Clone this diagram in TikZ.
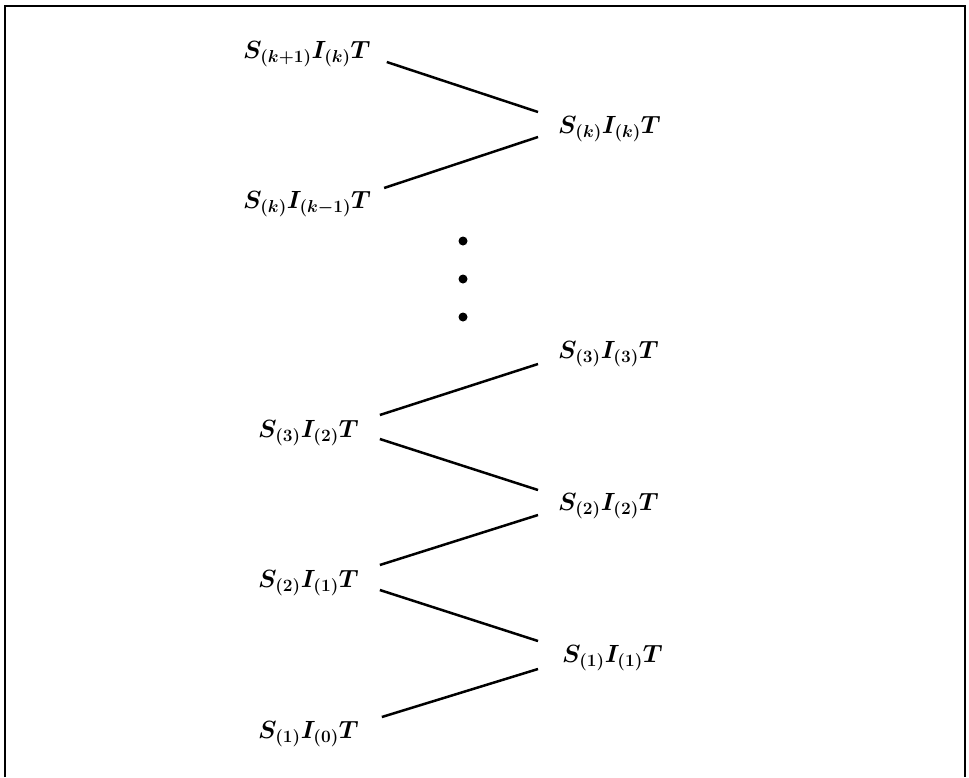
\documentclass[tikz,border=0pt]{standalone}
\usetikzlibrary{calc}
\DeclareMathSizes{23}{23}{17.5}{13}
\tikzset{
  lbl/.style={anchor=base west, inner sep=0pt, font=\fontsize{23}{28}\selectfont\boldmath},
  edge/.style={line width=2.5pt},
  frame/.style={line width=2.5pt},
  dotmark/.style={circle, fill=black, inner sep=0pt, minimum size=9pt}
}
\begin{document}
\begin{tikzpicture}[x=1pt,y=-1pt]
\useasboundingbox (0,0) rectangle (969,777);
% frame (open at bottom)
\draw[frame] (5,777) -- (5,6) -- (965,6) -- (965,777);
% labels
\node[lbl] (a) at (243,58) {$S_{(k+1)}I_{(k)}T$};
\node[lbl] (b) at (558,133) {$S_{(k)}I_{(k)}T$};
\node[lbl] (c) at (243,208) {$S_{(k)}I_{(k-1)}T$};
\node[lbl] (d) at (558,358) {$S_{(3)}I_{(3)}T$};
\node[lbl] (e) at (258,437) {$S_{(3)}I_{(2)}T$};
\node[lbl] (f) at (558,510) {$S_{(2)}I_{(2)}T$};
\node[lbl] (g) at (258,587) {$S_{(2)}I_{(1)}T$};
\node[lbl] (h) at (562,662) {$S_{(1)}I_{(1)}T$};
\node[lbl] (i) at (258,738) {$S_{(1)}I_{(0)}T$};
% dots
\node[dotmark] (d1) at (463,241) {};
\node[dotmark] (d2) at (463,279) {};
\node[dotmark] (d3) at (463,317) {};
% connectors
\draw[edge] ($(a.base east)+(16,4)$) -- ($(b.base west)+(-20,-21)$);
\draw[edge] ($(c.base east)+(13,-20)$) -- ($(b.base west)+(-20,4)$);
\draw[edge] ($(e.base east)+(21,-22)$) -- ($(d.base west)+(-20,6)$);
\draw[edge] ($(e.base east)+(21,2)$) -- ($(f.base west)+(-20,-20)$);
\draw[edge] ($(g.base east)+(21,-22)$) -- ($(f.base west)+(-20,5)$);
\draw[edge] ($(g.base east)+(21,3)$) -- ($(h.base west)+(-24,-21)$);
\draw[edge] ($(i.base east)+(23,-21)$) -- ($(h.base west)+(-24,7)$);
\end{tikzpicture}
\end{document}
